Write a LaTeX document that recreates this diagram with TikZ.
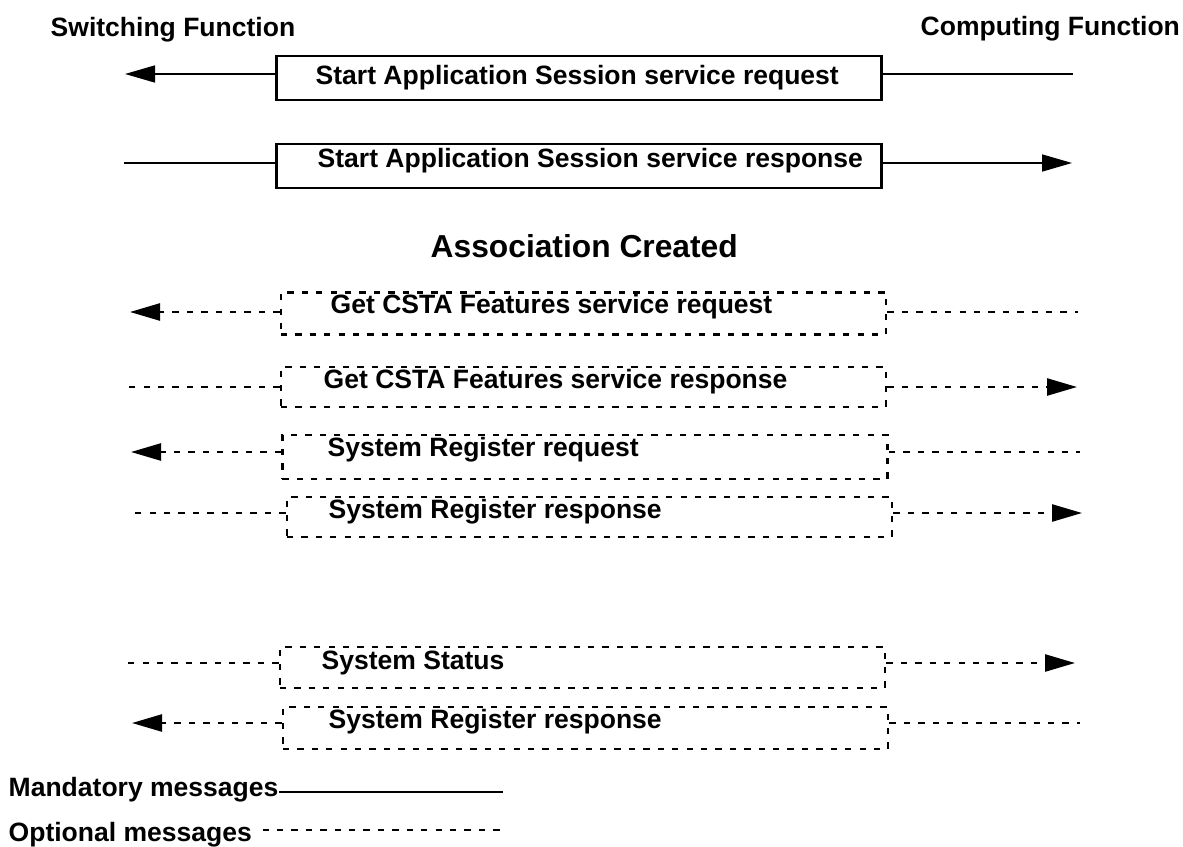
\documentclass[tikz,border=0pt]{standalone}
\usepackage{fontspec}
\setmainfont{Liberation Sans}
\usepackage{tikz}
\usetikzlibrary{arrows.meta, positioning}

\begin{document}
\begin{tikzpicture}[x=0.01cm, y=-0.01cm,
  lbl/.style={font=\fontsize{7.54}{9}\selectfont\bfseries, inner sep=0pt, anchor=base west},
  mbox/.style={draw, line width=0.8pt, inner sep=0pt, minimum width=6.04cm, minimum height=0.44cm},
  obox/.style={draw, line width=0.7pt, dash pattern=on 1.8pt off 2.3pt, inner sep=0pt,
               minimum width=6.05cm, minimum height=0.42cm},
  mand/.style={line width=0.45pt},
  opt/.style={line width=0.7pt, dash pattern=on 1.8pt off 2.3pt},
  tip/.style={-{Triangle[length=0.3cm, width=0.17cm]}}]
  \useasboundingbox (0,0) rectangle (1183,846);

  % ---- Parties ----
  \node[lbl] (sw) at (50,37) {Switching Function};
  \node[lbl] (cf) at (920,36) {Computing Function};

  % ---- Mandatory messages ----
  \node[mbox] (sasreq) at (579,78) {};
  \node[lbl] at (315,85) {Start Application Session service request};
  \coordinate (sf1) at (125,74);
  \coordinate (cf1) at (1073,74);
  \draw[mand, tip] (sasreq.west |- sf1) -- (sf1);
  \draw[mand] (sasreq.east |- cf1) -- (cf1);

  \node[mbox] (sasresp) at (579,166) {};
  \node[lbl] at (317,168) {Start Application Session service response};
  \coordinate (sf2) at (124,163);
  \coordinate (cf2) at (1072,163);
  \draw[mand] (sasresp.west |- sf2) -- (sf2);
  \draw[mand, tip] (sasresp.east |- cf2) -- (cf2);

  \node[lbl, font=\fontsize{9.03}{11}\selectfont\bfseries] (assoc) at (430,258) {Association Created};

  % ---- Optional messages ----
  \node[obox] (gcfreq) at (583.5,313.5) {};
  \node[lbl] at (330,314) {Get CSTA Features service request};
  \coordinate (sf3) at (130,312);
  \coordinate (cf3) at (1078,312);
  \draw[opt, tip] (gcfreq.west |- sf3) -- (sf3);
  \draw[opt] (gcfreq.east |- cf3) -- (cf3);

  \node[obox, minimum height=0.40cm] (gcfresp) at (583.5,387) {};
  \node[lbl] at (323,388) {Get CSTA Features service response};
  \coordinate (sf4) at (128,387);
  \coordinate (cf4) at (1077,387);
  \draw[opt] (gcfresp.west |- sf4) -- (sf4);
  \draw[opt, tip] (gcfresp.east |- cf4) -- (cf4);

  \node[obox, minimum height=0.44cm] (srreq) at (585,457) {};
  \node[lbl] at (327,456) {System Register request};
  \coordinate (sf5) at (131,452);
  \coordinate (cf5) at (1080,452);
  \draw[opt, tip] (srreq.west |- sf5) -- (sf5);
  \draw[opt] (srreq.east |- cf5) -- (cf5);

  \node[obox, minimum height=0.40cm] (srresp) at (589.5,517) {};
  \node[lbl] at (328,518) {System Register response};
  \coordinate (sf6) at (133,513);
  \coordinate (cf6) at (1082,513);
  \draw[opt] (srresp.west |- sf6) -- (sf6);
  \draw[opt, tip] (srresp.east |- cf6) -- (cf6);

  \node[obox, minimum height=0.41cm] (sysstat) at (582.5,667.5) {};
  \node[lbl] at (321,669) {System Status};
  \coordinate (sf7) at (127,663);
  \coordinate (cf7) at (1075,663);
  \draw[opt] (sysstat.west |- sf7) -- (sf7);
  \draw[opt, tip] (sysstat.east |- cf7) -- (cf7);

  \node[obox] (srresp2) at (585.5,728) {};
  \node[lbl] at (328,728) {System Register response};
  \coordinate (sf8) at (132,723);
  \coordinate (cf8) at (1080,723);
  \draw[opt, tip] (srresp2.west |- sf8) -- (sf8);
  \draw[opt] (srresp2.east |- cf8) -- (cf8);

  % ---- Legend ----
  \node[lbl] (mandlbl) at (8,796) {Mandatory messages};
  \coordinate (mandend) at (503,792);
  \draw[line width=0.6pt] (mandlbl.east |- mandend) -- (mandend);
  \node[lbl] (optlbl) at (8,841) {Optional messages};
  \coordinate (optend) at (503,830);
  \draw[opt, shorten <=0.1cm] (optlbl.east |- optend) -- (optend);
\end{tikzpicture}
\end{document}
